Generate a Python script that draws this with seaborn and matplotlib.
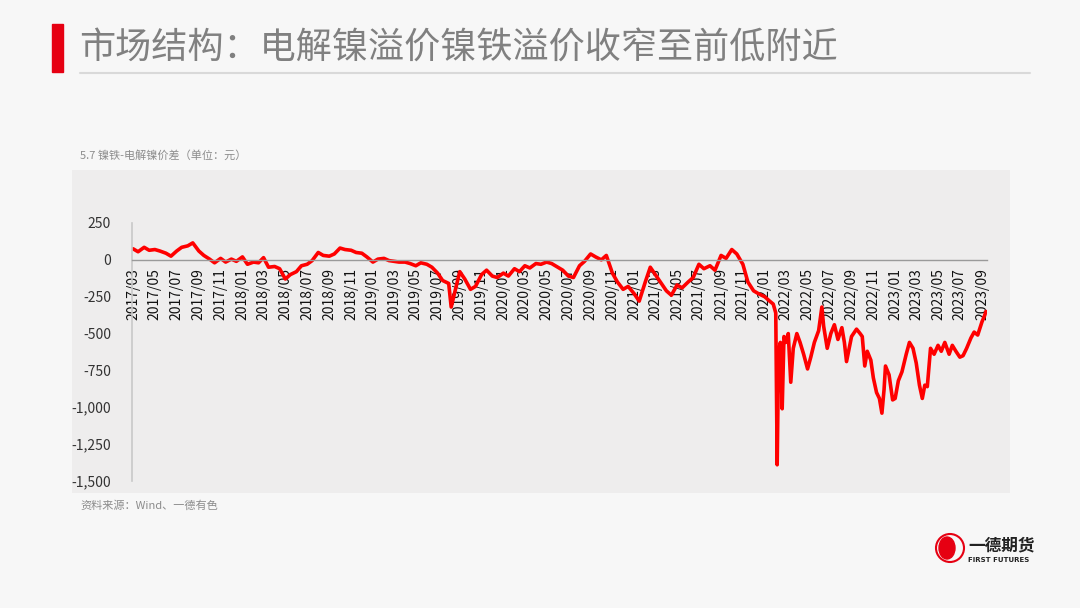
import matplotlib
matplotlib.use("Agg")
import matplotlib.pyplot as plt
import matplotlib.dates as mdates
import matplotlib.patches as mpatches
from matplotlib.ticker import FuncFormatter
import seaborn as sns
import pandas as pd

sns.set_theme(style="white")
plt.rcParams['font.family'] = ['Noto Sans CJK SC', 'DejaVu Sans']

title = "市场结构：电解镍溢价镍铁溢价收窄至前低附近"
subtitle = "5.7 镍铁-电解镍价差（单位：元）"
source = "资料来源：Wind、一德有色"

dates = [
    "2017-03-01", "2017-03-15", "2017-04-01", "2017-04-15", "2017-05-01", "2017-05-15",
    "2017-06-01", "2017-06-15", "2017-07-01", "2017-07-15", "2017-08-01", "2017-08-15",
    "2017-09-01", "2017-09-15", "2017-10-01", "2017-10-15", "2017-11-01", "2017-11-15",
    "2017-12-01", "2017-12-15",
    "2018-01-01", "2018-01-15", "2018-02-01", "2018-02-15", "2018-03-01", "2018-03-15",
    "2018-04-01", "2018-04-15", "2018-05-01", "2018-05-15", "2018-06-01", "2018-06-15",
    "2018-07-01", "2018-07-15", "2018-08-01", "2018-08-15", "2018-09-01", "2018-09-15",
    "2018-10-01", "2018-10-15", "2018-11-01", "2018-11-15", "2018-12-01", "2018-12-15",
    "2019-01-01", "2019-01-15", "2019-02-01", "2019-02-15", "2019-03-01", "2019-03-15",
    "2019-04-01", "2019-04-15", "2019-05-01", "2019-05-15", "2019-06-01", "2019-06-15",
    "2019-07-01", "2019-07-15", "2019-08-01", "2019-08-08", "2019-08-15", "2019-09-01",
    "2019-09-15", "2019-10-01", "2019-10-15", "2019-11-01", "2019-11-15", "2019-12-01",
    "2019-12-15",
    "2020-01-01", "2020-01-15", "2020-02-01", "2020-02-15", "2020-03-01", "2020-03-15",
    "2020-04-01", "2020-04-15", "2020-05-01", "2020-05-15", "2020-06-01", "2020-06-15",
    "2020-07-01", "2020-07-15", "2020-08-01", "2020-08-15", "2020-09-01", "2020-09-15",
    "2020-10-01", "2020-10-15", "2020-11-01", "2020-11-15", "2020-12-01", "2020-12-15",
    "2021-01-01", "2021-01-15", "2021-02-01", "2021-02-15", "2021-03-01", "2021-03-15",
    "2021-04-01", "2021-04-15", "2021-05-01", "2021-05-15", "2021-06-01", "2021-06-15",
    "2021-07-01", "2021-07-15", "2021-08-01", "2021-08-15", "2021-09-01", "2021-09-15",
    "2021-10-01", "2021-10-15", "2021-11-01", "2021-11-15", "2021-12-01", "2021-12-15",
    "2022-01-01", "2022-01-15", "2022-01-25", "2022-02-01", "2022-02-05", "2022-02-09",
    "2022-02-14", "2022-02-19", "2022-02-24", "2022-03-01", "2022-03-08", "2022-03-15",
    "2022-03-22", "2022-04-01", "2022-04-10", "2022-04-20", "2022-05-01", "2022-05-10",
    "2022-05-20", "2022-06-01", "2022-06-10", "2022-06-15", "2022-06-25", "2022-07-05",
    "2022-07-15", "2022-07-25", "2022-08-05", "2022-08-12", "2022-08-18", "2022-09-01",
    "2022-09-15", "2022-09-25", "2022-10-01", "2022-10-08", "2022-10-15", "2022-10-25",
    "2022-11-01", "2022-11-10", "2022-11-18", "2022-11-25", "2022-12-01", "2022-12-05",
    "2022-12-15", "2022-12-25",
    "2023-01-01", "2023-01-10", "2023-01-20", "2023-02-01", "2023-02-10", "2023-02-20",
    "2023-03-01", "2023-03-10", "2023-03-18", "2023-03-25", "2023-04-01", "2023-04-10",
    "2023-04-20", "2023-05-01", "2023-05-10", "2023-05-20", "2023-06-01", "2023-06-10",
    "2023-06-20", "2023-07-01", "2023-07-10", "2023-07-20", "2023-08-01", "2023-08-10",
    "2023-08-20", "2023-09-01", "2023-09-08", "2023-09-12",
]

values = [
    75, 55, 85, 65, 70, 60,
    45, 25, 60, 85, 95, 115,
    60, 30, 5, -20, 10, -15,
    5, -10,
    20, -30, -15, -20, 15, -50,
    -45, -60, -130, -100, -80, -40,
    -30, -5, 50, 30, 25, 40,
    80, 70, 65, 50, 45, 20,
    -15, 5, 10, -5, -10, -15,
    -15, -25, -40, -20, -30, -50,
    -90, -140, -160, -320, -250, -80,
    -130, -200, -180, -100, -70, -110,
    -120,
    -90, -110, -60, -80, -40, -55,
    -25, -30, -15, -25, -50, -70,
    -110, -120, -40, -10, 40, 20,
    0, 30, -90, -150, -200, -180,
    -230, -280, -150, -50, -100, -150,
    -210, -240, -170, -190, -150, -120,
    -30, -60, -40, -70, 30, 10,
    70, 40, -30, -150, -210, -230,
    -250, -280, -300, -360, -1390, -620,
    -560, -1010, -520, -560, -500, -830,
    -600, -500, -560, -640, -740, -660,
    -560, -480, -320, -450, -600, -500,
    -440, -540, -460, -560, -690, -520,
    -470, -500, -520, -720, -620, -680,
    -800, -900, -940, -1040, -880, -720,
    -780, -950,
    -940, -820, -760, -640, -560, -600,
    -700, -850, -940, -850, -860, -600,
    -640, -580, -620, -560, -640, -580,
    -620, -660, -650, -600, -530, -490,
    -510, -420, -380, -350,
]

df = pd.DataFrame({"date": pd.to_datetime(dates), "spread": values})

W, H = 1080, 608
fig = plt.figure(figsize=(W / 100, H / 100), dpi=100)
fig.patch.set_facecolor("#f7f7f7")

def px(x0, y0, x1, y1):
    return [x0 / W, 1 - y1 / H, (x1 - x0) / W, (y1 - y0) / H]

# chart panel background (behind everything)
panel = fig.add_axes(px(72, 170, 1010, 493), zorder=0)
panel.set_facecolor("#eeeded")
panel.set_xticks([])
panel.set_yticks([])
for s in panel.spines.values():
    s.set_visible(False)

# title decoration
fig.add_artist(mpatches.Rectangle((52 / W, 1 - 72 / H), 11 / W, 48 / H,
                                  transform=fig.transFigure, color="#e60012", zorder=2))
fig.add_artist(plt.Line2D([80 / W, 1030 / W], [1 - 73 / H, 1 - 73 / H],
                          transform=fig.transFigure, color="#d9d9d9", lw=1.5, zorder=2))
fig.text(79 / W, 1 - 49 / H, title, fontsize=26, color="#808080", va="center", ha="left")

fig.text(80 / W, 1 - 155 / H, subtitle, fontsize=8, color="#8c8c8c", va="center", ha="left")
fig.text(80 / W, 1 - 506 / H, source, fontsize=8, color="#8c8c8c", va="center", ha="left")

ax = fig.add_axes(px(132, 223, 987, 481), zorder=1)
ax.set_facecolor("none")
sns.lineplot(data=df, x="date", y="spread", ax=ax, color="#ff0000", linewidth=2.6)

ax.set_ylim(-1500, 250)
ax.set_xlim(pd.Timestamp("2017-02-26"), pd.Timestamp("2023-09-15"))
ax.set_yticks([250, 0, -250, -500, -750, -1000, -1250, -1500])
ax.yaxis.set_major_formatter(FuncFormatter(lambda v, p: f"{v:,.0f}"))
ax.xaxis.set_major_locator(mdates.MonthLocator(bymonth=[1, 3, 5, 7, 9, 11]))
ax.xaxis.set_major_formatter(mdates.DateFormatter("%Y/%m"))
ax.set_xlabel("")
ax.set_ylabel("")

for s in ["top", "right"]:
    ax.spines[s].set_visible(False)
ax.spines["bottom"].set_position(("data", 0))
ax.spines["bottom"].set_color("#9a9a9a")
ax.spines["left"].set_color("#c8c8c8")
ax.spines["bottom"].set_linewidth(1)
ax.spines["left"].set_linewidth(1.2)

ax.tick_params(axis="x", which="major", rotation=90, labelsize=10, colors="#9a9a9a",
               labelcolor="#111111", length=4, direction="out", pad=2)
ax.tick_params(axis="y", labelsize=10, colors="#c8c8c8", labelcolor="#333333",
               length=3, direction="out", pad=12)
for lab in ax.get_xticklabels():
    lab.set_va("top")

# logo
cx, cy = 950, 548
fig.add_artist(mpatches.Ellipse((cx / W, 1 - cy / H), 28 / W, 28 / H, transform=fig.transFigure,
                                facecolor="none", edgecolor="#e60012", lw=1.5, zorder=2))
fig.add_artist(mpatches.Ellipse((cx / W - 3 / W, 1 - cy / H), 16 / W, 22 / H,
                                transform=fig.transFigure, color="#e60012", zorder=2))
fig.text(968 / W, 1 - 545 / H, "一德期货", fontsize=12, fontweight="bold", color="#222222",
         va="center", ha="left")
fig.text(968 / W, 1 - 560 / H, "FIRST FUTURES", fontsize=5, fontweight="bold",
         color="#222222", va="center", ha="left", family=["DejaVu Sans"])

fig.savefig("out.png", dpi=100, facecolor=fig.get_facecolor())
